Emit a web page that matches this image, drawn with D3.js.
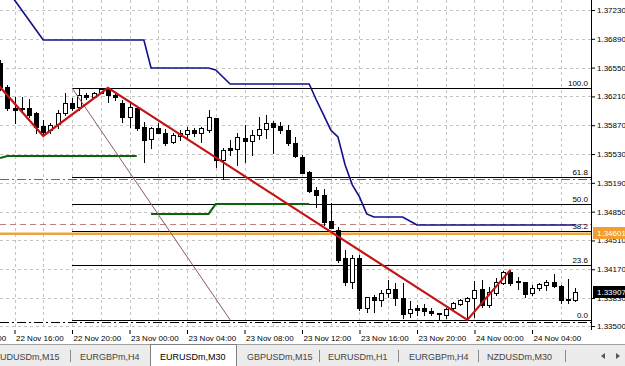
<!DOCTYPE html>
<html>
<head>
<meta charset="utf-8">
<script src="https://cdn.jsdelivr.net/npm/d3@7"></script>
<style>
body { margin: 0; background: #fff; }
svg text { font-family: "Liberation Sans", Arial, sans-serif; }
</style>
</head>
<body>
<script>
const w = 625;
const h = 366;
const plotW = 591;
const plotH = 330;

// EURUSDm, M30 bars starting 22 Nov 15:00
const startTime = new Date(2010, 10, 22, 15, 0);
const barTime = i => new Date(startTime.getTime() + i * 30 * 60000);

const opens = [1.36605,1.36321,1.36074,1.36062,1.36074,1.36015,1.35862,1.35814,1.35885,1.36015,
  1.36133,1.36085,1.36228,1.36203,1.36251,1.36310,1.36228,1.36133,1.35968,1.36074,
  1.35850,1.35708,1.35838,1.35779,1.35672,1.35743,1.35767,1.35814,1.35779,1.35814,
  1.35956,1.35460,1.35602,1.35590,1.35720,1.35684,1.35755,1.35826,1.35897,1.35862,
  1.35814,1.35661,1.35495,1.35318,1.35106,1.35047,1.34740,1.34634,1.34304,1.34020,
  1.34304,1.33714,1.33843,1.33808,1.33891,1.33938,1.33832,1.33655,1.33714,1.33714,
  1.33678,1.33655,1.33631,1.33714,1.33761,1.33796,1.33832,1.33938,1.33749,1.33891,
  1.34008,1.34138,1.34032,1.34020,1.33891,1.33949,1.33985,1.34020,1.33973,1.33820,
  1.33808];
const highs = [1.36640,1.36345,1.36203,1.36203,1.36180,1.36027,1.35932,1.35897,1.36050,1.36251,
  1.36192,1.36298,1.36251,1.36262,1.36310,1.36310,1.36251,1.36168,1.36133,1.36074,
  1.35909,1.35850,1.35897,1.35826,1.35779,1.35814,1.35850,1.35838,1.35850,1.36050,
  1.35956,1.35602,1.35696,1.35779,1.35873,1.35814,1.35968,1.35991,1.35920,1.35909,
  1.35873,1.35732,1.35519,1.35330,1.35142,1.35118,1.34952,1.34669,1.34398,1.34339,
  1.34339,1.33843,1.33867,1.33926,1.34044,1.34008,1.34008,1.33796,1.33749,1.33761,
  1.33714,1.33655,1.33714,1.33784,1.33820,1.33843,1.34032,1.34044,1.33961,1.34068,
  1.34150,1.34162,1.34079,1.34020,1.33985,1.34008,1.34044,1.34115,1.33985,1.34056,
  1.33949];
const lows = [1.36286,1.36050,1.35897,1.36027,1.35968,1.35779,1.35743,1.35779,1.35838,1.35991,
  1.36050,1.36050,1.36180,1.36192,1.36251,1.36144,1.36168,1.35909,1.35850,1.35814,
  1.35436,1.35602,1.35779,1.35637,1.35661,1.35696,1.35720,1.35743,1.35672,1.35791,
  1.35377,1.35236,1.35519,1.35401,1.35436,1.35519,1.35708,1.35720,1.35543,1.35779,
  1.35637,1.35495,1.35306,1.35082,1.34905,1.34693,1.34658,1.34256,1.33985,1.33949,
  1.33690,1.33666,1.33666,1.33737,1.33843,1.33749,1.33596,1.33607,1.33631,1.33631,
  1.33631,1.33584,1.33596,1.33702,1.33749,1.33572,1.33607,1.33725,1.33725,1.33867,
  1.33996,1.33985,1.33938,1.33843,1.33867,1.33926,1.33926,1.33961,1.33773,1.33773,
  1.33796];
const closes = [1.36321,1.36074,1.36050,1.36074,1.35991,1.35850,1.35791,1.35873,1.36015,1.36133,
  1.36074,1.36228,1.36203,1.36251,1.36298,1.36228,1.36203,1.35968,1.36085,1.35838,
  1.35696,1.35838,1.35779,1.35661,1.35755,1.35779,1.35814,1.35779,1.35838,1.35968,
  1.35460,1.35578,1.35578,1.35732,1.35684,1.35755,1.35826,1.35897,1.35850,1.35814,
  1.35661,1.35507,1.35306,1.35094,1.35047,1.34728,1.34658,1.34280,1.34020,1.34304,
  1.33714,1.33843,1.33808,1.33891,1.33938,1.33832,1.33643,1.33702,1.33690,1.33678,
  1.33655,1.33643,1.33702,1.33773,1.33808,1.33832,1.33926,1.33749,1.33902,1.34020,
  1.34138,1.34008,1.34020,1.33879,1.33949,1.33996,1.34020,1.33973,1.33808,1.33808,
  1.33907];

// indicator buffers, one value per bar
const blueLine = [1.37584,1.37466,1.37348,1.37230,1.37112,1.36994,1.36876,1.36876,1.36876,1.36876,
  1.36876,1.36876,1.36876,1.36876,1.36876,1.36876,1.36876,1.36876,1.36876,1.36876,
  1.36876,1.36546,1.36546,1.36546,1.36546,1.36546,1.36546,1.36546,1.36546,1.36546,
  1.36522,1.36439,1.36357,1.36357,1.36357,1.36357,1.36357,1.36357,1.36357,1.36357,
  1.36357,1.36357,1.36357,1.36357,1.36168,1.35991,1.35814,1.35732,1.35401,1.35166,
  1.35024,1.34823,1.34787,1.34787,1.34787,1.34787,1.34787,1.34740,1.34693,1.34693,
  1.34693,1.34693,1.34693,1.34693,1.34693,1.34693,1.34693,1.34693,1.34693,1.34693,
  1.34693,1.34693,1.34693,1.34693,1.34693,1.34693,1.34693,1.34693,1.34693,1.34693,
  1.34693];
const greenLine = [1.35484,1.35507,1.35507,1.35507,1.35507,1.35507,1.35507,1.35507,1.35507,1.35507,
  1.35507,1.35507,1.35507,1.35507,1.35507,1.35507,1.35507,1.35507,1.35507,1.35507,
  null,1.34823,1.34823,1.34823,1.34823,1.34823,1.34823,1.34823,1.34823,1.34823,
  1.34941,1.34941,1.34941,1.34941,1.34941,1.34941,1.34941,1.34941,1.34941,1.34941,
  1.34941,1.34941,1.34941,1.34941,null,null,null,null,null,null,
  null,null,null,null,null,null,null,null,null,null,
  null,null,null,null,null,null,null,null,null,null,
  null,null,null,null,null,null,null,null,null,null,
  null];

const zigzagBars = [-1, 6, 15, 65, 71];
const zigzagPrices = [1.36416, 1.35743, 1.36310, 1.33572, 1.34162];

const fibBars = [10, 32];
const fibPrices = [1.36310, 1.33572];
const fibLevels = [0, 0.236, 0.382, 0.5, 0.618, 1];

const priceTicks = [1.37230, 1.36890, 1.36550, 1.36210, 1.35870, 1.35530, 1.35190,
  1.34850, 1.34510, 1.34170, 1.33830, 1.33500];
const hLinePrices = [1.35236, 1.34699, 1.33543];
const orangePrice = 1.34601;
const bidPrice = 1.33907;

const tabNames = ["AUDUSDm,M15", "EURGBPm,H4", "EURUSDm,M30", "GBPUSDm,M15",
  "EURUSDm,H1", "EURGBPm,H4", "NZDUSDm,M30"];
const activeTab = 2;

const svg = d3.select("body")
  .append("svg")
  .attr("width", w)
  .attr("height", h)
  .style("display", "block");

svg.append("rect").attr("width", w).attr("height", h).attr("fill", "#fff");
svg.append("defs").append("clipPath").attr("id", "plot")
  .append("rect").attr("width", plotW).attr("height", plotH);

const x = d3.scaleTime()
  .domain([barTime(0), barTime(74)])
  .range([0.125, 532]);
const y = d3.scaleLinear()
  .domain([1.3350, 1.3723])
  .range([326, 10]);
const px = v => Math.round(v) + 0.5;

const plot = svg.append("g").attr("clip-path", "url(#plot)");

// grid
const gridTimes = d3.timeHour.range(new Date(2010, 10, 22, 12), new Date(2010, 10, 24, 8), 2);
plot.selectAll(".vgrid")
  .data(gridTimes)
  .enter()
  .append("line")
  .attr("x1", d => px(x(d)))
  .attr("x2", d => px(x(d)))
  .attr("y1", 0)
  .attr("y2", plotH)
  .attr("stroke", "#c4c4c4")
  .attr("stroke-dasharray", "3,3");
plot.selectAll(".hgrid")
  .data(priceTicks)
  .enter()
  .append("line")
  .attr("x1", 0)
  .attr("x2", plotW)
  .attr("y1", d => px(y(d)))
  .attr("y2", d => px(y(d)))
  .attr("stroke", "#c4c4c4")
  .attr("stroke-dasharray", "3,3");

// horizontal line objects
const hStyles = [
  { color: "#5f725f", dash: "9,3,2,3" },
  { color: "#c08080", dash: "6,4" },
  { color: "#000", dash: "9,3,2,3" }
];
plot.selectAll(".hline")
  .data(hLinePrices)
  .enter()
  .append("line")
  .attr("x1", 0)
  .attr("x2", plotW)
  .attr("y1", d => px(y(d)))
  .attr("y2", d => px(y(d)))
  .attr("stroke", (d, i) => hStyles[i].color)
  .attr("stroke-dasharray", (d, i) => hStyles[i].dash);

// orange price line
plot.append("line")
  .attr("x1", 0).attr("x2", plotW)
  .attr("y1", y(orangePrice) + 1).attr("y2", y(orangePrice) + 1)
  .attr("stroke", "#eea53e")
  .attr("stroke-width", 2.5);

// fibonacci levels
const fibX = x(barTime(fibBars[0]));
const fibRange = fibPrices[0] - fibPrices[1];
const fib = plot.selectAll(".fib")
  .data(fibLevels)
  .enter()
  .append("g");
fib.append("line")
  .attr("x1", Math.round(fibX))
  .attr("x2", plotW)
  .attr("y1", d => px(y(fibPrices[1] + d * fibRange)))
  .attr("y2", d => px(y(fibPrices[1] + d * fibRange)))
  .attr("stroke", "#000");
fib.append("text")
  .attr("x", plotW - 3)
  .attr("y", d => Math.round(y(fibPrices[1] + d * fibRange)) - 2)
  .attr("text-anchor", "end")
  .attr("font-size", "8px")
  .text(d => d3.format(".1f")(d * 100));

// candles
const bars = d3.range(opens.length).map(i => ({
  t: barTime(i), o: opens[i], hi: highs[i], lo: lows[i], c: closes[i]
}));
const candle = plot.selectAll(".candle")
  .data(bars)
  .enter()
  .append("g");
candle.append("line")
  .attr("x1", d => px(x(d.t)))
  .attr("x2", d => px(x(d.t)))
  .attr("y1", d => Math.round(y(d.hi)))
  .attr("y2", d => Math.round(y(d.lo)) + 1)
  .attr("stroke", "#000");
candle.append("rect")
  .attr("x", d => Math.round(x(d.t)) - 1.5)
  .attr("width", 4)
  .attr("y", d => Math.round(y(Math.max(d.o, d.c))) + 0.5)
  .attr("height", d => Math.max(1, Math.round(y(Math.min(d.o, d.c))) - Math.round(y(Math.max(d.o, d.c)))))
  .attr("fill", d => d.c >= d.o ? "#fff" : "#000")
  .attr("stroke", "#000");

// indicators
const line = d3.line()
  .defined(d => d != null)
  .x((d, i) => x(barTime(i)))
  .y(d => y(d));
plot.append("path")
  .datum(greenLine)
  .attr("d", line)
  .attr("fill", "none")
  .attr("stroke", "#0a640a")
  .attr("stroke-width", 2);
plot.append("path")
  .datum(blueLine)
  .attr("d", line)
  .attr("fill", "none")
  .attr("stroke", "#10108c")
  .attr("stroke-width", 1.6);

plot.append("line")
  .attr("x1", fibX).attr("y1", y(fibPrices[0]))
  .attr("x2", x(barTime(fibBars[1]))).attr("y2", y(fibPrices[1]))
  .attr("stroke", "#8c5a5a");

plot.append("path")
  .datum(zigzagBars.map((b, i) => [x(barTime(b)), y(zigzagPrices[i])]))
  .attr("d", d3.line())
  .attr("fill", "none")
  .attr("stroke", "#c41414")
  .attr("stroke-width", 2.2);

// price axis
svg.append("line")
  .attr("x1", plotW + 0.5).attr("x2", plotW + 0.5)
  .attr("y1", 0).attr("y2", plotH)
  .attr("stroke", "#000");
const yAxis = d3.axisRight(y)
  .tickValues(priceTicks)
  .tickFormat(d3.format(".5f"))
  .tickSize(4)
  .tickPadding(2);
const yAxisGroup = svg.append("g")
  .attr("transform", `translate(${plotW}, 0)`)
  .call(yAxis);
yAxisGroup.select(".domain").remove();
yAxisGroup.selectAll("text").attr("font-size", "8px").attr("font-family", null);

// price labels
const priceLabels = [
  { p: orangePrice, bg: "#f0a030" },
  { p: bidPrice, bg: "#000" }
];
const pl = svg.selectAll(".plabel")
  .data(priceLabels)
  .enter()
  .append("g")
  .attr("transform", d => `translate(${plotW + 2}, ${Math.round(y(d.p))})`);
pl.append("rect")
  .attr("x", 0).attr("y", -6)
  .attr("width", w - plotW - 2).attr("height", 12)
  .attr("fill", d => d.bg);
pl.append("text")
  .attr("x", 4).attr("y", 3)
  .attr("font-size", "8px")
  .attr("fill", "#fff")
  .text(d => d3.format(".5f")(d.p));

// time axis
const labelTimes = d3.timeHour.range(new Date(2010, 10, 22, 12), new Date(2010, 10, 24, 8), 4);
const xAxis = d3.axisBottom(x)
  .tickValues(labelTimes)
  .tickFormat(d3.timeFormat("%d %b %H:%M"))
  .tickSize(4)
  .tickPadding(1);
const xAxisGroup = svg.append("g")
  .attr("transform", `translate(0, ${plotH})`)
  .call(xAxis);
xAxisGroup.select(".domain").remove();
xAxisGroup.selectAll("text")
  .attr("text-anchor", "start")
  .attr("x", 1)
  .attr("font-size", "8px")
  .attr("font-family", null);

// tab bar
const tabs = svg.append("g");
tabs.append("rect")
  .attr("x", 0).attr("y", 344)
  .attr("width", w).attr("height", h - 344)
  .attr("fill", "#ececec");
tabs.append("line")
  .attr("x1", 0).attr("x2", w)
  .attr("y1", 344.5).attr("y2", 344.5)
  .attr("stroke", "#a0a0a0");
tabs.append("rect")
  .attr("x", 150.5).attr("y", 344.5)
  .attr("width", 86).attr("height", 22)
  .attr("fill", "#fff")
  .attr("stroke", "#808080");
const tabX = [-6, 80, 160, 247, 328, 409, 487];
tabs.selectAll(".tab")
  .data(tabNames)
  .enter()
  .append("text")
  .attr("x", (d, i) => tabX[i])
  .attr("y", 360)
  .attr("font-size", "9px")
  .attr("fill", (d, i) => i === activeTab ? "#000" : "#444")
  .text(d => d);
const sepX = [70.5, 319.5, 398.5, 478.5, 565.5];
tabs.selectAll(".sep")
  .data(sepX)
  .enter()
  .append("line")
  .attr("x1", d => d).attr("x2", d => d)
  .attr("y1", 350).attr("y2", 362)
  .attr("stroke", "#8a8a8a");
tabs.append("path").attr("d", "M601,356 L605,353 L605,359 Z").attr("fill", "#555");
tabs.append("path").attr("d", "M620,356 L616,353 L616,359 Z").attr("fill", "#555");
</script>
</body>
</html>
